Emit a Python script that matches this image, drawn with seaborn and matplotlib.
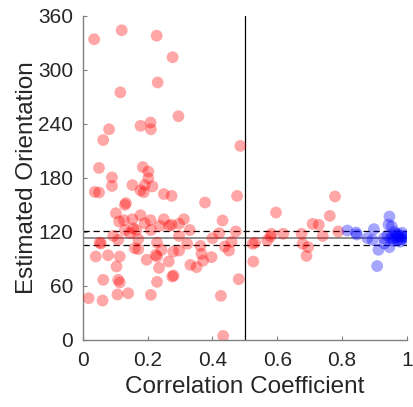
import matplotlib
matplotlib.use("Agg")
import matplotlib.pyplot as plt
import numpy as np
import pandas as pd
import seaborn as sns

# --- Data ---
# low-correlation fits (red)
low_r = [
    0.035, 0.120, 0.228, 0.277, 0.231, 0.116, 0.295, 0.486, 0.209, 0.210,
    0.178, 0.081, 0.063, 0.050, 0.090, 0.185, 0.202, 0.202, 0.153, 0.090,
    0.191, 0.215, 0.037, 0.050, 0.178, 0.188, 0.250, 0.274, 0.130, 0.133,
    0.102, 0.112, 0.127, 0.153, 0.178, 0.191, 0.209, 0.238, 0.250, 0.266,
    0.130, 0.155, 0.165, 0.145, 0.210, 0.094, 0.109, 0.052, 0.056, 0.171,
    0.160, 0.171, 0.229, 0.040, 0.078, 0.114, 0.104, 0.197, 0.225, 0.229,
    0.235, 0.243, 0.063, 0.109, 0.114, 0.229, 0.018, 0.061, 0.107, 0.140,
    0.210, 0.377, 0.476, 0.274, 0.297, 0.312, 0.330, 0.297, 0.431, 0.421,
    0.400, 0.472, 0.459, 0.322, 0.363, 0.438, 0.451, 0.279, 0.297, 0.366,
    0.397, 0.265, 0.332, 0.351, 0.371, 0.276, 0.280, 0.481, 0.426, 0.433,
    0.596, 0.524, 0.531, 0.526, 0.569, 0.582, 0.579, 0.618, 0.675, 0.678,
    0.695, 0.690, 0.709, 0.728, 0.740, 0.762, 0.778, 0.788,
]
low_theta = [
    334, 344, 338, 314, 286, 275, 248.5, 215.5, 241.5, 234,
    237.8, 234, 222, 191, 180.5, 192, 187, 179.6, 172, 171,
    172, 170.5, 164.4, 163.7, 166, 164, 162, 160, 150, 152,
    140.7, 131.5, 133, 134, 138.5, 129.6, 133, 126.7, 134, 126.7,
    122, 124, 122, 118.5, 122, 115.5, 111, 108, 107, 112,
    101.8, 100.7, 108, 92.6, 94, 92.6, 81.5, 89, 94.4, 92.6,
    80, 100, 66.7, 66.7, 63.7, 64.4, 46.3, 43.7, 50.4, 51.8,
    50, 152.6, 160, 127.8, 129, 134, 122, 115.5, 132.6, 118.5,
    113, 120.4, 109, 106.7, 104.4, 103.7, 99.2, 98, 99.2, 95.6,
    91.9, 87, 83.3, 80.8, 88, 70.4, 71.5, 67.4, 48.9, 4.4,
    141.5, 106.7, 108, 87, 110.4, 117.8, 114.8, 117.8, 117.8, 106.7,
    103, 93.3, 128.9, 127.8, 115.5, 137.8, 159.3, 120.4,
]

# high-correlation fits (blue)
high_r = [
    0.816, 0.843, 0.845, 0.878, 0.898, 0.894, 0.912, 0.908, 0.946, 0.943,
    0.953, 0.929, 0.946, 0.930, 0.955, 0.960, 0.965, 0.970, 0.975, 0.980,
    0.985, 0.990, 0.958, 0.968, 0.972, 0.978, 0.962, 0.950, 0.988, 0.940,
    0.995, 0.983,
]
high_theta = [
    121.5, 119.3, 117, 113, 123, 111, 100, 82, 137, 128,
    126, 113, 103, 107, 116, 113, 118, 111, 115, 112,
    119, 114, 110, 114, 117, 109, 120, 113, 111, 116,
    115, 116,
]

true_orientation = 113
band = 7.5
r_threshold = 0.5

df = pd.concat([
    pd.DataFrame({"r": low_r, "theta": low_theta, "group": "low"}),
    pd.DataFrame({"r": high_r, "theta": high_theta, "group": "high"}),
])

sns.set_style("ticks")
plt.rcParams["font.family"] = ["Liberation Sans", "DejaVu Sans"]

fig = plt.figure(figsize=(4.14, 4.07), dpi=100)
ax = fig.add_axes([0.200, 0.165, 0.783, 0.796])

sns.scatterplot(
    data=df, x="r", y="theta", hue="group", ax=ax,
    palette={"low": "#ff0000", "high": "#0000ff"},
    s=72, alpha=0.35, linewidth=0, legend=False, zorder=3,
)

ax.axhline(true_orientation, color="#707070", lw=1.1, zorder=2)
ax.axhline(true_orientation + band, color="black", lw=0.9, ls=(0, (5, 3)), zorder=2)
ax.axhline(true_orientation - band, color="black", lw=0.9, ls=(0, (5, 3)), zorder=2)
ax.axvline(r_threshold, color="black", lw=0.9, zorder=2)

ax.set_xlim(0, 1)
ax.set_ylim(0, 360)
ax.set_xticks([0, 0.2, 0.4, 0.6, 0.8, 1])
ax.set_xticklabels(["0", "0.2", "0.4", "0.6", "0.8", "1"])
ax.set_yticks(np.arange(0, 361, 60))

ax.set_xlabel("Correlation Coefficient", fontsize=17.5, color="#262626", labelpad=4)
ax.set_ylabel("Estimated Orientation", fontsize=17.5, color="#262626", labelpad=0)
ax.tick_params(direction="in", length=3, width=0.8, colors="#808080",
               labelcolor="#262626", labelsize=15)
ax.tick_params(axis="x", pad=8)
ax.tick_params(axis="y", pad=7)

sns.despine(ax=ax)
for side in ["left", "bottom"]:
    ax.spines[side].set_color("#808080")
    ax.spines[side].set_linewidth(1.0)

fig.savefig("out.png", dpi=100)
